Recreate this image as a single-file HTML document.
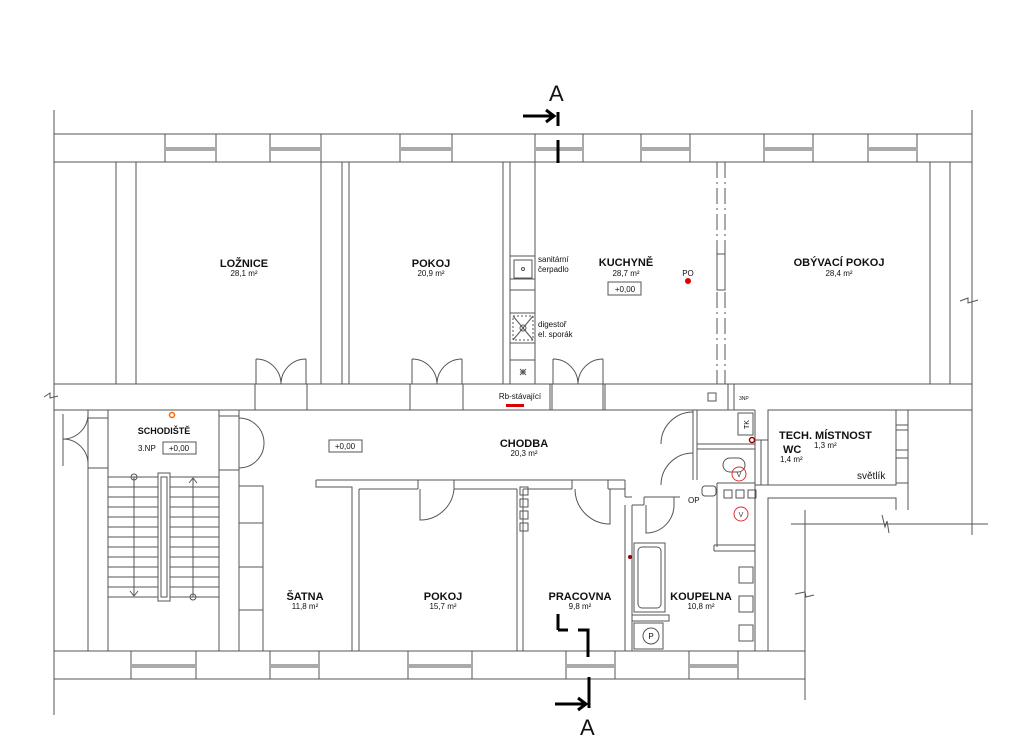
<!DOCTYPE html>
<html><head><meta charset="utf-8"><style>
html,body{margin:0;padding:0;background:#fff;}
svg{display:block;}
text{font-family:"Liberation Sans",sans-serif;fill:#111;}
.b{font-weight:bold;font-size:11px;}
.s{font-size:8px;}
</style></head><body>
<svg width="1024" height="748" viewBox="0 0 1024 748" xmlns="http://www.w3.org/2000/svg">
<g fill="none" stroke="#555" stroke-width="1">
<!-- outer left line -->
<line x1="54" y1="110" x2="54" y2="715"/>
<line x1="972" y1="110" x2="972" y2="410"/>
<!-- top wall -->
<line x1="54" y1="134" x2="972" y2="134"/>
<line x1="54" y1="162" x2="972" y2="162"/>
<!-- window piers in top wall -->
<g>
<rect x="165" y="134" width="51" height="28"/><line x1="166" y1="148" x2="215" y2="148"/><line x1="166" y1="150" x2="215" y2="150"/>
<rect x="270" y="134" width="51" height="28"/><line x1="271" y1="148" x2="320" y2="148"/><line x1="271" y1="150" x2="320" y2="150"/>
<rect x="400" y="134" width="52" height="28"/><line x1="401" y1="148" x2="451" y2="148"/><line x1="401" y1="150" x2="451" y2="150"/>
<rect x="535" y="134" width="48" height="28"/><line x1="536" y1="148" x2="582" y2="148"/><line x1="536" y1="150" x2="582" y2="150"/>
<rect x="641" y="134" width="49" height="28"/><line x1="642" y1="148" x2="689" y2="148"/><line x1="642" y1="150" x2="689" y2="150"/>
<rect x="764" y="134" width="49" height="28"/><line x1="765" y1="148" x2="812" y2="148"/><line x1="765" y1="150" x2="812" y2="150"/>
<rect x="868" y="134" width="49" height="28"/><line x1="869" y1="148" x2="916" y2="148"/><line x1="869" y1="150" x2="916" y2="150"/>
</g>
<!-- upper rooms -->
<rect x="54" y="162" width="62" height="222"/>
<rect x="136" y="162" width="185" height="222"/>
<line x1="342" y1="162" x2="342" y2="384"/>
<rect x="349" y="162" width="154" height="222"/>
<line x1="510" y1="162" x2="510" y2="384"/>
<line x1="535" y1="162" x2="535" y2="384"/>
<line x1="510" y1="256" x2="535" y2="256"/><line x1="510" y1="290" x2="535" y2="290"/>
<line x1="510" y1="313" x2="535" y2="313"/><line x1="510" y1="343" x2="535" y2="343"/>
<line x1="510" y1="360" x2="535" y2="360"/>
<rect x="514" y="260" width="18" height="18"/><circle cx="523" cy="269" r="1.5"/>
<line x1="510" y1="279" x2="535" y2="279"/>
<rect x="513" y="316" width="20" height="24" stroke-dasharray="2,2"/>
<line x1="513" y1="316" x2="533" y2="340"/><line x1="533" y1="316" x2="513" y2="340"/><circle cx="523" cy="328" r="3"/>
<line x1="520" y1="372" x2="526" y2="372"/><line x1="523" y1="369" x2="523" y2="375"/><line x1="520" y1="369" x2="526" y2="375"/><line x1="526" y1="369" x2="520" y2="375"/>
<line x1="510" y1="162" x2="930" y2="162"/>
<line x1="930" y1="162" x2="930" y2="384"/>
<line x1="950" y1="162" x2="950" y2="384"/>
<line x1="717" y1="162" x2="717" y2="384" stroke-dasharray="16,4,2,4"/>
<line x1="725" y1="162" x2="725" y2="384" stroke-dasharray="16,4,2,4"/>
<rect x="717" y="254" width="8" height="36"/>
<!-- middle wall -->
<line x1="54" y1="384" x2="972" y2="384"/>
<line x1="54" y1="410" x2="108" y2="410"/>
<line x1="219" y1="410" x2="755" y2="410"/>
<line x1="768" y1="410" x2="972" y2="410"/>
<!-- door openings in middle wall -->
<rect x="255" y="384" width="52" height="26"/>
<rect x="410" y="384" width="53" height="26"/>
<rect x="552" y="384" width="51" height="26"/>
<line x1="463" y1="384" x2="463" y2="410"/>
<line x1="550" y1="384" x2="550" y2="410"/>
<line x1="605" y1="384" x2="605" y2="410"/>
<line x1="728" y1="384" x2="728" y2="410"/>
<line x1="734" y1="384" x2="734" y2="410"/>
<!-- double doors -->
<path d="M256 359 L256 384 M256 359 A25 25 0 0 1 281 384 M306 359 L306 384 M306 359 A25 25 0 0 0 281 384"/>
<path d="M412 359 L412 384 M412 359 A25 25 0 0 1 437 384 M462 359 L462 384 M462 359 A25 25 0 0 0 437 384"/>
<path d="M553 359 L553 384 M553 359 A25 25 0 0 1 578 384 M603 359 L603 384 M603 359 A25 25 0 0 0 578 384"/>
<!-- lower left -->
<rect x="54" y="410" width="34" height="241"/>
<rect x="88" y="410" width="20" height="8"/>
<line x1="88" y1="468" x2="108" y2="468"/>
<path d="M88 414 A25 25 0 0 1 63 439 M88 464 A25 25 0 0 0 63 439 M63 414 L63 466"/>
<!-- stair -->
<rect x="108" y="410" width="111" height="241"/>
<line x1="219" y1="416" x2="239" y2="416"/><line x1="219" y1="470" x2="239" y2="470"/>
<path d="M239 418 A25 25 0 0 1 264 443 M239 468 A25 25 0 0 0 264 443"/>
<g>
<line x1="108" y1="477" x2="219" y2="477"/><line x1="108" y1="487" x2="219" y2="487"/>
<line x1="108" y1="497" x2="219" y2="497"/><line x1="108" y1="507" x2="219" y2="507"/>
<line x1="108" y1="517" x2="219" y2="517"/><line x1="108" y1="527" x2="219" y2="527"/>
<line x1="108" y1="537" x2="219" y2="537"/><line x1="108" y1="547" x2="219" y2="547"/>
<line x1="108" y1="557" x2="219" y2="557"/><line x1="108" y1="567" x2="219" y2="567"/>
<line x1="108" y1="577" x2="219" y2="577"/><line x1="108" y1="587" x2="219" y2="587"/>
<line x1="108" y1="597" x2="219" y2="597"/>
</g>
<rect x="158" y="473" width="12" height="128" fill="#fff"/>
<rect x="161" y="477" width="6" height="120"/>
<line x1="134" y1="477" x2="134" y2="596"/><circle cx="134" cy="477" r="3"/><path d="M130 591 L134 596 L138 591"/>
<line x1="193" y1="478" x2="193" y2="597"/><circle cx="193" cy="597" r="3"/><path d="M189 483 L193 478 L197 483"/>
<!-- chodba / satna -->
<line x1="239" y1="410" x2="239" y2="651"/>
<rect x="239" y="486" width="24" height="165"/>
<line x1="239" y1="523" x2="263" y2="523"/><line x1="239" y1="567" x2="263" y2="567"/><line x1="239" y1="610" x2="263" y2="610"/>
<path d="M316 480 L316 487 L352 487 L352 651"/>
<line x1="316" y1="480" x2="625" y2="480"/>
<line x1="359" y1="489" x2="359" y2="651"/>
<line x1="359" y1="489" x2="418" y2="489"/><line x1="454" y1="489" x2="517" y2="489"/>
<line x1="418" y1="480" x2="418" y2="489"/><line x1="454" y1="480" x2="454" y2="489"/>
<path d="M420 489 L420 520 A34 34 0 0 0 454 489"/>
<line x1="517" y1="489" x2="517" y2="651"/>
<line x1="523" y1="489" x2="523" y2="651"/>
<line x1="517" y1="489" x2="517" y2="489"/>
<line x1="523" y1="489" x2="572" y2="489"/><line x1="608" y1="489" x2="625" y2="489"/>
<line x1="572" y1="480" x2="572" y2="489"/><line x1="608" y1="480" x2="608" y2="489"/>
<path d="M610 489 L610 524 A35 35 0 0 1 575 489"/>
<line x1="625" y1="480" x2="625" y2="497"/>
<line x1="625" y1="497" x2="632" y2="497"/>
<line x1="625" y1="505" x2="625" y2="651"/>
<line x1="632" y1="505" x2="632" y2="651"/>
<line x1="632" y1="505" x2="644" y2="505"/>
<line x1="644" y1="497" x2="644" y2="505"/>
<line x1="644" y1="497" x2="680" y2="497"/>
<path d="M646 505 L646 533 A28 28 0 0 0 674 505"/>
<line x1="674" y1="497" x2="674" y2="505"/>
<rect x="520" y="487" width="8" height="8"/><rect x="520" y="499" width="8" height="8"/><rect x="520" y="511" width="8" height="8"/><rect x="520" y="523" width="8" height="8"/>
<!-- wc / tech block -->
<line x1="693" y1="410" x2="693" y2="480"/>
<line x1="697" y1="410" x2="697" y2="480"/>
<line x1="697" y1="444" x2="755" y2="444"/>
<line x1="697" y1="449" x2="755" y2="449"/>
<path d="M693 412 A32 32 0 0 0 661 444 M693 453 A32 32 0 0 0 661 485"/>
<line x1="755" y1="410" x2="755" y2="485"/>
<line x1="761" y1="440" x2="761" y2="485"/>
<line x1="755" y1="440" x2="768" y2="440"/>
<line x1="755" y1="485" x2="768" y2="485"/>
<line x1="717" y1="483" x2="755" y2="483"/>
<line x1="717" y1="483" x2="717" y2="547"/>
<line x1="755" y1="483" x2="755" y2="651"/>
<line x1="714" y1="545" x2="755" y2="545"/>
<line x1="714" y1="551" x2="755" y2="551"/>
<line x1="714" y1="545" x2="714" y2="551"/>
<rect x="738" y="413" width="15" height="22"/>
<rect x="723" y="458" width="22" height="14" rx="7"/>
<rect x="702" y="486" width="14" height="10" rx="3"/>
<rect x="724" y="490" width="8" height="8"/><rect x="736" y="490" width="8" height="8"/><rect x="748" y="490" width="8" height="8"/>
<rect x="708" y="393" width="8" height="8"/>
<!-- koupelna fixtures -->
<rect x="634" y="543" width="31" height="69"/>
<rect x="638" y="547" width="23" height="61" rx="4"/>
<rect x="632" y="615" width="37" height="6"/>
<rect x="634" y="623" width="29" height="26"/>
<circle cx="651" cy="636" r="8"/>
<rect x="739" y="567" width="14" height="16"/><rect x="739" y="596" width="14" height="16"/><rect x="739" y="625" width="14" height="16"/>
<!-- tech room right -->
<rect x="768" y="410" width="128" height="75"/>
<rect x="896" y="410" width="12" height="15"/><rect x="896" y="430" width="12" height="20"/><rect x="896" y="458" width="12" height="25"/>
<line x1="908" y1="410" x2="908" y2="510"/>
<line x1="972" y1="410" x2="972" y2="535"/>
<path d="M768 651 L768 498 L896 498 L896 510"/>
<line x1="791" y1="524" x2="988" y2="524"/>
<path d="M882 515 L885 527 L887 521 L889 533"/>
<line x1="805" y1="510" x2="805" y2="700"/>
<path d="M795 594 L805 592 L806 597 L814 595"/>
<path d="M960 301 L968 298 L968 303 L978 300"/>
<path d="M44 397 L50 393 L50 398 L58 396"/>
<!-- bottom wall -->
<line x1="54" y1="651" x2="805" y2="651"/>
<line x1="54" y1="679" x2="805" y2="679"/>
<rect x="131" y="651" width="65" height="28"/><line x1="132" y1="665" x2="195" y2="665"/><line x1="132" y1="667" x2="195" y2="667"/>
<rect x="270" y="651" width="49" height="28"/><line x1="271" y1="665" x2="318" y2="665"/><line x1="271" y1="667" x2="318" y2="667"/>
<rect x="408" y="651" width="64" height="28"/><line x1="409" y1="665" x2="471" y2="665"/><line x1="409" y1="667" x2="471" y2="667"/>
<rect x="566" y="651" width="49" height="28"/><line x1="567" y1="665" x2="614" y2="665"/><line x1="567" y1="667" x2="614" y2="667"/>
<rect x="689" y="651" width="49" height="28"/><line x1="690" y1="665" x2="737" y2="665"/><line x1="690" y1="667" x2="737" y2="667"/>
<!-- level boxes -->
<rect x="163" y="442" width="33" height="12"/>
<rect x="329" y="440" width="33" height="12"/>
<rect x="608" y="282" width="33" height="13"/>
</g>
<!-- red items -->
<rect x="506" y="404" width="18" height="3" fill="#d00"/>
<circle cx="688" cy="281" r="3" fill="#d00"/>
<circle cx="172" cy="415" r="2.5" fill="none" stroke="#f60" stroke-width="1.5"/>
<circle cx="752" cy="440" r="2.5" fill="none" stroke="#900" stroke-width="1.5"/>
<circle cx="630" cy="557" r="2" fill="#900"/>
<circle cx="739" cy="474" r="7" fill="none" stroke="#d33"/>
<circle cx="741" cy="514" r="7" fill="none" stroke="#d33"/>
<!-- section A marks -->
<g stroke="#000" stroke-width="3" fill="none">
<line x1="558" y1="112" x2="558" y2="126"/><line x1="558" y1="140" x2="558" y2="163"/>
<line x1="523" y1="116" x2="553" y2="116"/><path d="M546 110 L554 116 L546 122"/>
<line x1="558" y1="614" x2="558" y2="630"/><line x1="558" y1="630" x2="568" y2="630"/>
<path d="M578 630 L588 630 L588 657"/>
<line x1="589" y1="677" x2="589" y2="708"/>
<line x1="555" y1="704" x2="585" y2="704"/><path d="M578 698 L586 704 L578 710"/>
</g>
<text x="549" y="101" font-size="22">A</text>
<text x="580" y="735" font-size="22">A</text>
<!-- labels -->
<text class="b" x="244" y="267" text-anchor="middle">LOŽNICE</text>
<text class="s" x="244" y="276" text-anchor="middle">28,1 m²</text>
<text class="b" x="431" y="267" text-anchor="middle">POKOJ</text>
<text class="s" x="431" y="276" text-anchor="middle">20,9 m²</text>
<text class="b" x="626" y="266" text-anchor="middle">KUCHYNĚ</text>
<text class="s" x="626" y="276" text-anchor="middle">28,7 m²</text>
<text class="s" x="625" y="292" text-anchor="middle">+0,00</text>
<text class="s" x="688" y="276" text-anchor="middle">PO</text>
<text class="s" x="538" y="262">sanitární</text>
<text class="s" x="538" y="272">čerpadlo</text>
<text class="s" x="538" y="327">digestoř</text>
<text class="s" x="538" y="337">el. sporák</text>
<text class="b" x="839" y="266" text-anchor="middle">OBÝVACÍ POKOJ</text>
<text class="s" x="839" y="276" text-anchor="middle">28,4 m²</text>
<text class="s" x="520" y="399" text-anchor="middle">Rb-stávající</text>
<text x="739" y="400" font-size="5">3NP</text>
<text class="b" x="164" y="434" text-anchor="middle" style="font-size:9px">SCHODIŠTĚ</text>
<text class="s" x="138" y="451">3.NP</text>
<text class="s" x="179" y="451" text-anchor="middle">+0,00</text>
<text class="s" x="345" y="449" text-anchor="middle">+0,00</text>
<text class="b" x="524" y="447" text-anchor="middle">CHODBA</text>
<text class="s" x="524" y="456" text-anchor="middle">20,3 m²</text>
<text class="b" x="779" y="439">TECH. MÍSTNOST</text>
<text class="s" x="814" y="448">1,3 m²</text>
<text class="b" x="783" y="453">WC</text>
<text class="s" x="780" y="462">1,4 m²</text>
<text x="857" y="479" font-size="10">světlík</text>
<text x="688" y="503" font-size="8">OP</text>
<text class="b" x="305" y="600" text-anchor="middle">ŠATNA</text>
<text class="s" x="305" y="609" text-anchor="middle">11,8 m²</text>
<text class="b" x="443" y="600" text-anchor="middle">POKOJ</text>
<text class="s" x="443" y="609" text-anchor="middle">15,7 m²</text>
<text class="b" x="580" y="600" text-anchor="middle">PRACOVNA</text>
<text class="s" x="580" y="609" text-anchor="middle">9,8 m²</text>
<text class="b" x="701" y="600" text-anchor="middle">KOUPELNA</text>
<text class="s" x="701" y="609" text-anchor="middle">10,8 m²</text>
<text x="651" y="639" font-size="8" text-anchor="middle">P</text>
<text x="739" y="477" font-size="7" text-anchor="middle" style="fill:#333">V</text>
<text x="741" y="517" font-size="7" text-anchor="middle" style="fill:#333">V</text>
<text x="743" y="429" font-size="7" transform="rotate(-90 746 426)">TK</text>
</svg>
</body></html>
